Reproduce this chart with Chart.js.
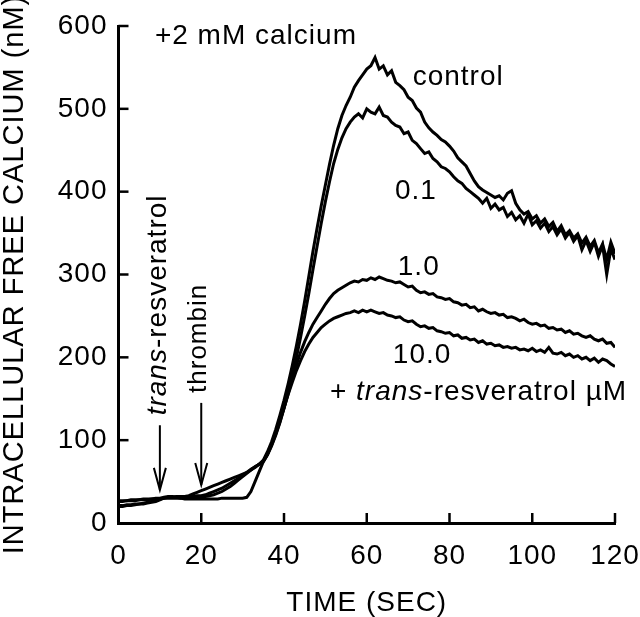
<!DOCTYPE html>
<html><head><meta charset="utf-8">
<script src="https://cdn.jsdelivr.net/npm/chart.js@4.4.0/dist/chart.umd.min.js"></script>
<style>html,body{margin:0;padding:0;background:#fff;overflow:hidden}canvas{display:block}</style>
</head><body>
<canvas id="c" width="640" height="617"></canvas>
<script>
// ---- DATA ----
const timeSec = [0,1,2,3,4,5,6,7,8,9,10,11,12,13,14,15,16,17,18,19,20,21,22,23,24,25,26,27,28,29,30,31,32,33,34,35,36,37,38,39,40,41,42,43,44,45,46,47,48,49,50,51,52,53,54,55,56,57,58,59,60,61,62,63,64,65,66,67,68,69,70,71,72,73,74,75,76,77,78,79,80,81,82,83,84,85,86,87,88,89,90,91,92,93,94,95,96,97,98,99,100,101,102,103,104,105,106,107,108,109,110,111,112,113,114,115,116,117,118,119,120];

const controlNM = [20,20,21,21,22,23,23,24,25,26,
 28,30,31,31,32,32,32,33,35,37,
 39,41,43,45,47,49,51,53,55,57,
 59,61,64,67,71,76,86,98,113,130,
 148,168,190,214,240,268,298,328,356,383,
 408,433,456,476,492,504,514,526,534,541,
 548,552,562,548,552,541,546,532,528,523,
 514,510,501,496,484,477,472,468,463,460,
 455,449,441,436,431,422,413,406,402,399,
 396,393,395,390,398,401,386,378,373,376,
 367,371,362,367,358,363,352,359,348,353,
 344,349,338,345,334,341,326,337,318,339,
 325];

const res01NM = [21,21,22,22,23,23,24,25,26,27,
 29,30,31,31,31,31,32,32,32,33,
 33,34,36,38,40,42,45,48,51,54,
 57,61,65,68,71,75,83,94,107,122,
 139,158,178,200,224,250,277,306,334,362,
 388,412,434,451,465,476,484,490,494,489,
 500,496,494,502,492,490,484,480,478,470,
 472,462,458,452,446,448,440,436,430,428,
 424,418,413,410,404,400,396,392,386,392,
 380,385,378,381,370,375,366,371,362,373,
 360,365,356,362,352,358,348,355,344,351,
 340,347,330,341,328,339,322,335,300,331,
 318];

const res1NM = [27,27,27,28,28,28,29,29,29,30,
 30,31,32,32,31,30,30,30,31,31,
 32,32,33,34,36,38,41,44,48,52,
 56,60,64,68,71,74,82,93,106,121,
 138,156,174,191,206,219,230,240,248,256,
 264,271,277,281,284,287,290,292,291,294,
 293,296,294,297,295,293,292,290,291,288,
 285,286,281,278,279,276,277,273,272,270,
 271,267,266,263,264,260,261,256,258,255,
 253,254,251,252,248,249,247,244,246,242,
 240,241,238,239,235,236,233,234,230,232,
 228,229,226,224,226,222,220,222,217,218,
 212];

const res10NM = [26,26,27,27,27,28,28,28,29,29,
 29,30,30,30,30,30,29,29,29,29,
 29,29,29,29,29,30,30,30,30,30,
 30,31,38,50,62,74,83,95,109,124,
 139,155,170,184,196,207,216,224,230,236,
 240,244,247,249,251,253,254,256,254,257,
 255,257,255,253,254,251,250,248,249,245,
 243,244,240,237,238,235,236,232,231,229,
 230,226,227,223,224,221,222,218,220,216,
 217,214,215,212,213,211,212,209,210,208,
 211,207,209,206,212,205,204,206,202,204,
 200,202,198,200,196,199,194,198,196,192,
 189];

const xTickValues = [0,20,40,60,80,100,120];
const yTickValues = [0,100,200,300,400,500,600];
const seriesLabels = ['control','0.1','1.0','10.0'];

// ---- STYLE / LAYOUT ----
const FONT = '"Liberation Sans", Arial, Helvetica, sans-serif';
const INK = '#000';

function pts(vals){ return vals.map((v,i)=>({x: timeSec[i], y: v})); }

// annotation anchors in data coordinates
const textNotes = [
  {text:'+2 mM calcium', t:8.8, v:588, size:28},
  {text:'control', t:71.1, v:538, size:28},
  {text:'0.1', t:66.8, v:401, size:28},
  {text:'1.0', t:67.5, v:309, size:28},
  {text:'10.0', t:66.3, v:203, size:28}
];
const arrows = [ {t:10, from:118, to:40}, {t:20, from:145, to:46} ];

const overlay = {
  id:'overlay',
  beforeDraw(chart){ chart.ctx.letterSpacing = '1px'; },
  afterDraw(chart){
    const {ctx, scales:{x,y}, chartArea:a} = chart;
    ctx.save();
    ctx.strokeStyle = INK; ctx.fillStyle = INK; ctx.lineCap = 'butt';
    // inward tick marks
    ctx.lineWidth = 2.5;
    xTickValues.slice(1).forEach(t=>{
      const px = x.getPixelForValue(t);
      ctx.beginPath(); ctx.moveTo(px, a.bottom); ctx.lineTo(px, a.bottom-10); ctx.stroke();
    });
    yTickValues.slice(1).forEach(v=>{
      const py = y.getPixelForValue(v);
      ctx.beginPath(); ctx.moveTo(a.left, py); ctx.lineTo(a.left+10, py); ctx.stroke();
    });
    // arrows
    ctx.lineWidth = 2;
    arrows.forEach(ar=>{
      const px = x.getPixelForValue(ar.t), y1 = y.getPixelForValue(ar.from), y2 = y.getPixelForValue(ar.to);
      ctx.beginPath(); ctx.moveTo(px, y1); ctx.lineTo(px, y2); ctx.stroke();
      ctx.beginPath(); ctx.moveTo(px-6, y2-22); ctx.lineTo(px, y2); ctx.lineTo(px+6, y2-22); ctx.stroke();
    });
    // text labels
    ctx.letterSpacing = '1px';
    ctx.textBaseline = 'middle'; ctx.textAlign = 'left';
    textNotes.forEach(n=>{
      ctx.font = n.size+'px '+FONT;
      ctx.fillText(n.text, x.getPixelForValue(n.t), y.getPixelForValue(n.v));
    });
    // mixed italic label
    const parts = [['+ ','normal'],['trans','italic'],['-resveratrol \u00B5M','normal']];
    let cx = x.getPixelForValue(51.1); const cy = y.getPixelForValue(158);
    parts.forEach(([s,st])=>{
      ctx.font = (st==='italic'?'italic ':'')+'28px '+FONT;
      ctx.fillText(s, cx, cy); cx += ctx.measureText(s).width;
    });
    // rotated labels
    function vtext(t, v, size, segs){
      ctx.save();
      ctx.translate(x.getPixelForValue(t), y.getPixelForValue(v));
      ctx.rotate(-Math.PI/2);
      let ox = 0;
      segs.forEach(([s,st])=>{
        ctx.font = (st==='italic'?'italic ':'')+size+'px '+FONT;
        ctx.fillText(s, ox, 0); ox += ctx.measureText(s).width;
      });
      ctx.restore();
    }
    vtext(9.5, 130, 28, [['trans','italic'],['-resveratrol','normal']]);
    vtext(19.4, 157, 26, [['thrombin','normal']]);
    ctx.restore();
  }
};

function ds(label, vals){
  return {label, data: pts(vals), borderColor: INK, borderWidth: 3, pointRadius: 0, tension: 0, fill: false};
}

new Chart(document.getElementById('c'), {
  type: 'line',
  data: { datasets: [ds(seriesLabels[0], controlNM), ds(seriesLabels[1], res01NM), ds(seriesLabels[2], res1NM), ds(seriesLabels[3], res10NM)] },
  options: {
    responsive: false, animation: false, devicePixelRatio: 1,
    layout: { padding: { left: 0, right: 25, top: 26, bottom: 0 } },
    plugins: { legend: { display: false }, tooltip: { enabled: false } },
    scales: {
      x: {
        type: 'linear', min: 0, max: 120,
        afterBuildTicks(s){ s.ticks = xTickValues.map(v=>({value:v})); },
        ticks: { color: INK, font: { family: FONT, size: 28 }, padding: 16, maxRotation: 0 },
        grid: { display: true, drawOnChartArea: false, drawTicks: false },
        border: { display: true, color: INK, width: 3 },
        title: { display: true, text: 'TIME (SEC)', color: INK, font: { family: FONT, size: 28, lineHeight: 1 }, padding: 0 },
        afterFit(s){ s.height = 94; s.paddingLeft = 0; s.paddingRight = 0; }
      },
      y: {
        min: 0, max: 600,
        afterBuildTicks(s){ s.ticks = yTickValues.map(v=>({value:v})); },
        ticks: { color: INK, font: { family: FONT, size: 28 }, padding: 11 },
        grid: { display: true, drawOnChartArea: false, drawTicks: false },
        border: { display: true, color: INK, width: 3 },
        title: { display: true, text: 'INTRACELLULAR FREE CALCIUM (nM)', color: INK, font: { family: FONT, size: 29, lineHeight: 1 }, padding: 0 },
        afterFit(s){ s.width = 118.5; s.paddingTop = 0; s.paddingBottom = 0; }
      }
    }
  },
  plugins: [overlay]
});
</script>
</body></html>
